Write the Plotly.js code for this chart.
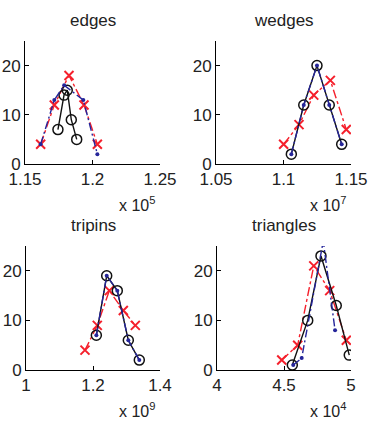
<!DOCTYPE html>
<html>
<head>
<meta charset="utf-8">
<script src="https://cdn.plot.ly/plotly-3.0.1.min.js"></script>
<style>
  html, body { margin: 0; padding: 0; background: #fff; }
  #chart { width: 374px; height: 421px; }
</style>
</head>
<body>
<div id="chart"></div>
<script>
// x values are in axis units (the "x 10^n" factor is shown under each axis)
var panelTitles = ['edges', 'wedges', 'tripins', 'triangles'];
var panelExponents = [5, 7, 9, 4];
var xRanges = [[1.15, 1.25], [1.05, 1.15], [1.0, 1.4], [4.0, 5.0]];
var xDticks = [0.05, 0.05, 0.2, 0.5];

// black solid, circles
var edgesObsX = [1.1744, 1.1789, 1.1813, 1.1843, 1.1883];
var edgesObsY = [7, 14, 15, 9, 5];
var wedgesObsX = [1.1058, 1.1150, 1.1248, 1.1339, 1.1431];
var wedgesObsY = [2, 12, 20, 12, 4];
var tripinsObsX = [1.2100, 1.2409, 1.2725, 1.3054, 1.3382];
var tripinsObsY = [7, 19, 16, 6, 2];
var trianglesObsX = [4.562, 4.677, 4.776, 4.890, 4.987];
var trianglesObsY = [1, 10, 23, 13, 3];

// red dash-dot, crosses
var edgesRedX = [1.1616, 1.1717, 1.1826, 1.1937, 1.2036];
var edgesRedY = [4, 12, 18, 12, 4];
var wedgesRedX = [1.1001, 1.1115, 1.1224, 1.1347, 1.1465];
var wedgesRedY = [4, 8, 14, 17, 7];
var tripinsRedX = [1.1761, 1.2128, 1.2487, 1.2905, 1.3263];
var tripinsRedY = [4, 9, 16, 12, 9];
var trianglesRedX = [4.483, 4.602, 4.722, 4.841, 4.965];
var trianglesRedY = [2, 5, 21, 16, 6];

// blue dash-dot, dots
var edgesBlueX = [1.1616, 1.1717, 1.1790, 1.1932, 1.2036];
var edgesBlueY = [4, 13, 16, 13, 2];
var wedgesBlueX = [1.1058, 1.1150, 1.1248, 1.1339, 1.1431];
var wedgesBlueY = [2, 12, 20, 12, 4];
var tripinsBlueX = [1.2100, 1.2409, 1.2725, 1.3054, 1.3382];
var tripinsBlueY = [7, 19, 16, 6, 2];
var trianglesBlueX = [4.569, 4.632, 4.793, 4.881];
var trianglesBlueY = [1, 2.4, 26, 8];

var obsX = [edgesObsX, wedgesObsX, tripinsObsX, trianglesObsX];
var obsY = [edgesObsY, wedgesObsY, tripinsObsY, trianglesObsY];
var redX = [edgesRedX, wedgesRedX, tripinsRedX, trianglesRedX];
var redY = [edgesRedY, wedgesRedY, tripinsRedY, trianglesRedY];
var blueX = [edgesBlueX, wedgesBlueX, tripinsBlueX, trianglesBlueX];
var blueY = [edgesBlueY, wedgesBlueY, tripinsBlueY, trianglesBlueY];

var W = 374, H = 421;
var FONT = '"Liberation Sans", Arial, Helvetica, sans-serif';
var BLACK = '#111111', RED = '#f5202c', BLUE = '#25259a';

// plot boxes in pixels: [left, right, top, bottom]
var boxes = [[25, 160, 41, 164], [216, 351, 41, 164], [26, 160, 246, 370], [217, 351, 246, 370]];

var data = [];
var layout = {
	width: W,
	height: H,
	margin: {l: 0, r: 0, t: 0, b: 0},
	paper_bgcolor: '#fff',
	plot_bgcolor: 'rgba(0,0,0,0)',
	showlegend: false,
	font: {family: FONT, size: 17, color: '#222'},
	annotations: []
};

for (var i = 0; i < 4; i++) {
	var n = i === 0 ? '' : String(i + 1);
	var xa = 'x' + n, ya = 'y' + n;
	var b = boxes[i];

	data.push({
		x: redX[i], y: redY[i], xaxis: xa, yaxis: ya,
		type: 'scatter', mode: 'lines+markers',
		line: {color: RED, width: 1.4, dash: 'dashdot'},
		marker: {symbol: 'x-thin-open', color: RED, size: 9, line: {color: RED, width: 2}}
	});
	data.push({
		x: obsX[i], y: obsY[i], xaxis: xa, yaxis: ya,
		type: 'scatter', mode: 'lines+markers',
		line: {color: BLACK, width: 1.4},
		marker: {symbol: 'circle-open', color: BLACK, size: 10, line: {color: BLACK, width: 1.5}}
	});
	data.push({
		x: blueX[i], y: blueY[i], xaxis: xa, yaxis: ya,
		type: 'scatter', mode: 'lines+markers',
		line: {color: BLUE, width: 1.4, dash: '8px,3px,2px,3px'},
		marker: {color: BLUE, size: 4}
	});

	layout['xaxis' + n] = {
		domain: [b[0] / W, b[1] / W],
		anchor: ya,
		range: xRanges[i],
		tick0: xRanges[i][0],
		dtick: xDticks[i],
		showgrid: false, zeroline: false,
		showline: true, linecolor: '#000', linewidth: 1,
		ticks: 'inside', ticklen: 4, tickcolor: '#000',
		tickfont: {family: FONT, size: 17, color: '#222'}
	};
	layout['yaxis' + n] = {
		domain: [(H - b[3]) / H, (H - b[2]) / H],
		anchor: xa,
		range: [0, 25],
		tickvals: [0, 10, 20],
		showgrid: false, zeroline: false,
		showline: true, linecolor: '#000', linewidth: 1,
		ticks: 'inside', ticklen: 4, tickcolor: '#000',
		tickfont: {family: FONT, size: 17, color: '#222'}
	};

	// panel title
	layout.annotations.push({
		text: panelTitles[i],
		xref: xa + ' domain', x: 0.5, xanchor: 'center',
		yref: 'paper', y: (H - (b[2] - 21)) / H, yanchor: 'middle',
		showarrow: false,
		font: {family: FONT, size: 17, color: '#222'}
	});
	// exponent label
	layout.annotations.push({
		text: 'x 10<sup>' + panelExponents[i] + '</sup>',
		xref: 'paper', x: (b[1] - 3) / W, xanchor: 'right',
		yref: 'paper', y: (H - (b[3] + 40)) / H, yanchor: 'middle',
		showarrow: false,
		font: {family: FONT, size: 16, color: '#222'}
	});
}

Plotly.newPlot('chart', data, layout, {staticPlot: true});
</script>
</body>
</html>
